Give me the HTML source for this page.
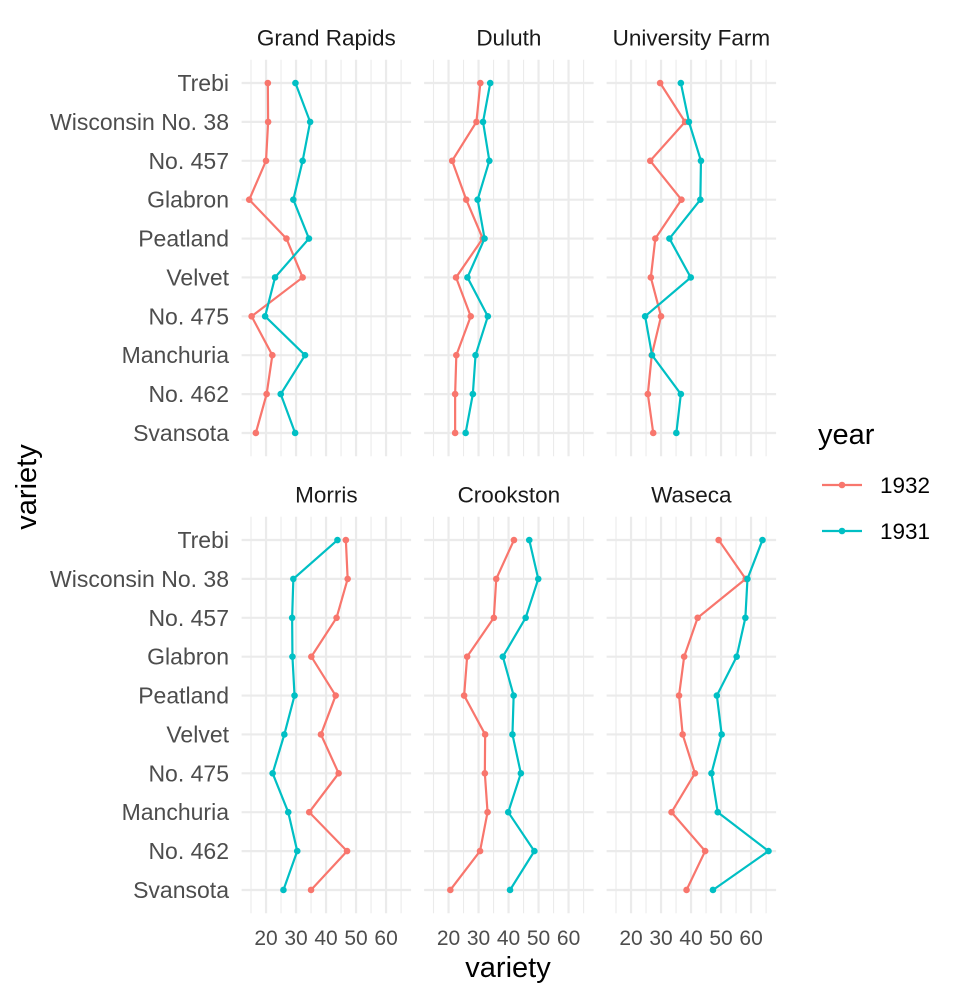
<!DOCTYPE html>
<html><head><meta charset="utf-8"><style>
body{margin:0;background:#fff}
svg text{font-family:"Liberation Sans",sans-serif}
</style></head><body>
<svg id="c" width="960" height="998" xmlns="http://www.w3.org/2000/svg"></svg>
<script>
const sites=["Grand Rapids","Duluth","University Farm","Morris","Crookston","Waseca"];
const varieties=["Trebi","Wisconsin No. 38","No. 457","Glabron","Peatland","Velvet","No. 475","Manchuria","No. 462","Svansota"];
const years=["1932","1931"];
const y1932={
"Grand Rapids":[20.6,20.7,20.0,14.4,26.8,32.2,15.2,22.1,20.2,16.6],
"Duluth":[30.6,29.3,21.2,25.9,31.4,22.5,27.4,22.6,22.2,22.2],
"University Farm":[29.7,38.0,26.4,36.8,28.1,26.6,30.0,26.9,25.6,27.4],
"Morris":[46.6,47.2,43.5,35.1,43.2,38.3,44.2,34.4,47.0,35.0],
"Crookston":[41.8,35.9,35.1,26.2,25.2,32.2,32.1,33.0,30.5,20.6],
"Waseca":[49.2,58.2,42.2,37.7,36.0,37.2,41.3,33.5,44.7,38.5]};
const y1931={
"Grand Rapids":[29.8,34.7,32.2,29.1,34.3,23.0,19.7,33.0,24.9,29.7],
"Duluth":[33.9,31.5,33.6,29.7,32.0,26.3,33.1,29.0,28.1,25.7],
"University Farm":[36.6,39.3,43.3,43.1,32.8,39.9,24.7,27.0,36.6,35.1],
"Morris":[43.8,29.1,28.7,28.8,29.5,26.1,22.2,27.4,30.4,25.8],
"Crookston":[46.9,49.9,45.7,38.1,41.7,41.3,44.1,39.9,48.6,40.5],
"Waseca":[63.8,58.8,58.1,55.2,48.6,50.2,46.8,48.9,65.8,47.3]};
const xticks=[20,30,40,50,60];
const colors={"1932":"#F8766D","1931":"#00BFC4"};
const NS="http://www.w3.org/2000/svg";
const svg=document.getElementById('c');
function mk(t,a,p){const e=document.createElementNS(NS,t);for(const k in a)e.setAttribute(k,a[k]);(p||svg).appendChild(e);return e;}
const xmin=11.86,xmax=68.34,pw=169.5;
const lefts=[241.6,424.1,606.6];
const tops=[59.7,516.7];const ph=396.6;
function sx(c,v){return lefts[c]+(v-xmin)/(xmax-xmin)*pw;}
function sy(r,i){return tops[r]+(i+0.6)/(varieties.length-1+1.2)*ph;}
sites.forEach((s,k)=>{
  const c=k%3,r=Math.floor(k/3);
  const g=mk('g',{});
  
  
  for(let v=15;v<=65;v+=10){mk('line',{x1:sx(c,v),x2:sx(c,v),y1:tops[r],y2:tops[r]+ph,stroke:'#EBEBEB','stroke-width':1.1},g);}
  xticks.forEach(v=>{mk('line',{x1:sx(c,v),x2:sx(c,v),y1:tops[r],y2:tops[r]+ph,stroke:'#EBEBEB','stroke-width':2.2},g);});
  varieties.forEach((vn,i)=>{mk('line',{x1:lefts[c],x2:lefts[c]+pw,y1:sy(r,i),y2:sy(r,i),stroke:'#EBEBEB','stroke-width':2.2},g);});
  const st=mk('text',{x:lefts[c]+pw/2,y:tops[r]-14,'text-anchor':'middle','font-size':22.5,fill:'#1A1A1A'},g);
  st.textContent=s;
  
  
  [["1932",y1932],["1931",y1931]].forEach(([yr,d])=>{
    const pts=d[s].map((v,i)=>sx(c,v)+','+sy(r,i)).join(' ');
    const pl=mk('polyline',{points:pts,fill:'none',stroke:colors[yr],'stroke-width':2.2},g);
    
    
    d[s].forEach((v,i)=>{const p=mk('circle',{cx:sx(c,v),cy:sy(r,i),r:3.3,fill:colors[yr]},g);
      
      });
  });
  if(c===0){varieties.forEach((vn,i)=>{const t=mk('text',{x:229,y:sy(r,i)+8,'text-anchor':'end','font-size':23,fill:'#4D4D4D'});t.textContent=vn;
    
    });}
  if(r===1){xticks.forEach(v=>{const t=mk('text',{x:sx(c,v),y:945,'text-anchor':'middle','font-size':21,fill:'#4D4D4D'});t.textContent=v;
    
    });}
});
let t=mk('text',{x:508,y:977,'text-anchor':'middle','font-size':29,fill:'#000'});t.textContent='variety';


t=mk('text',{x:0,y:0,'text-anchor':'middle','font-size':29,fill:'#000',transform:'translate(36,487) rotate(-90)'});t.textContent='variety';


t=mk('text',{x:818,y:444,'font-size':29,fill:'#000'});t.textContent='year';


years.forEach((yr,i)=>{const y=485+i*46;
  const g=mk('g',{});
  
  
  mk('line',{x1:822,x2:862,y1:y,y2:y,stroke:colors[yr],'stroke-width':2.2},g);
  mk('circle',{cx:842,cy:y,r:3.3,fill:colors[yr]},g);
  const tt=mk('text',{x:880,y:y+8,'font-size':22.5,fill:'#000'},g);tt.textContent=yr;});
</script>
</body></html>
